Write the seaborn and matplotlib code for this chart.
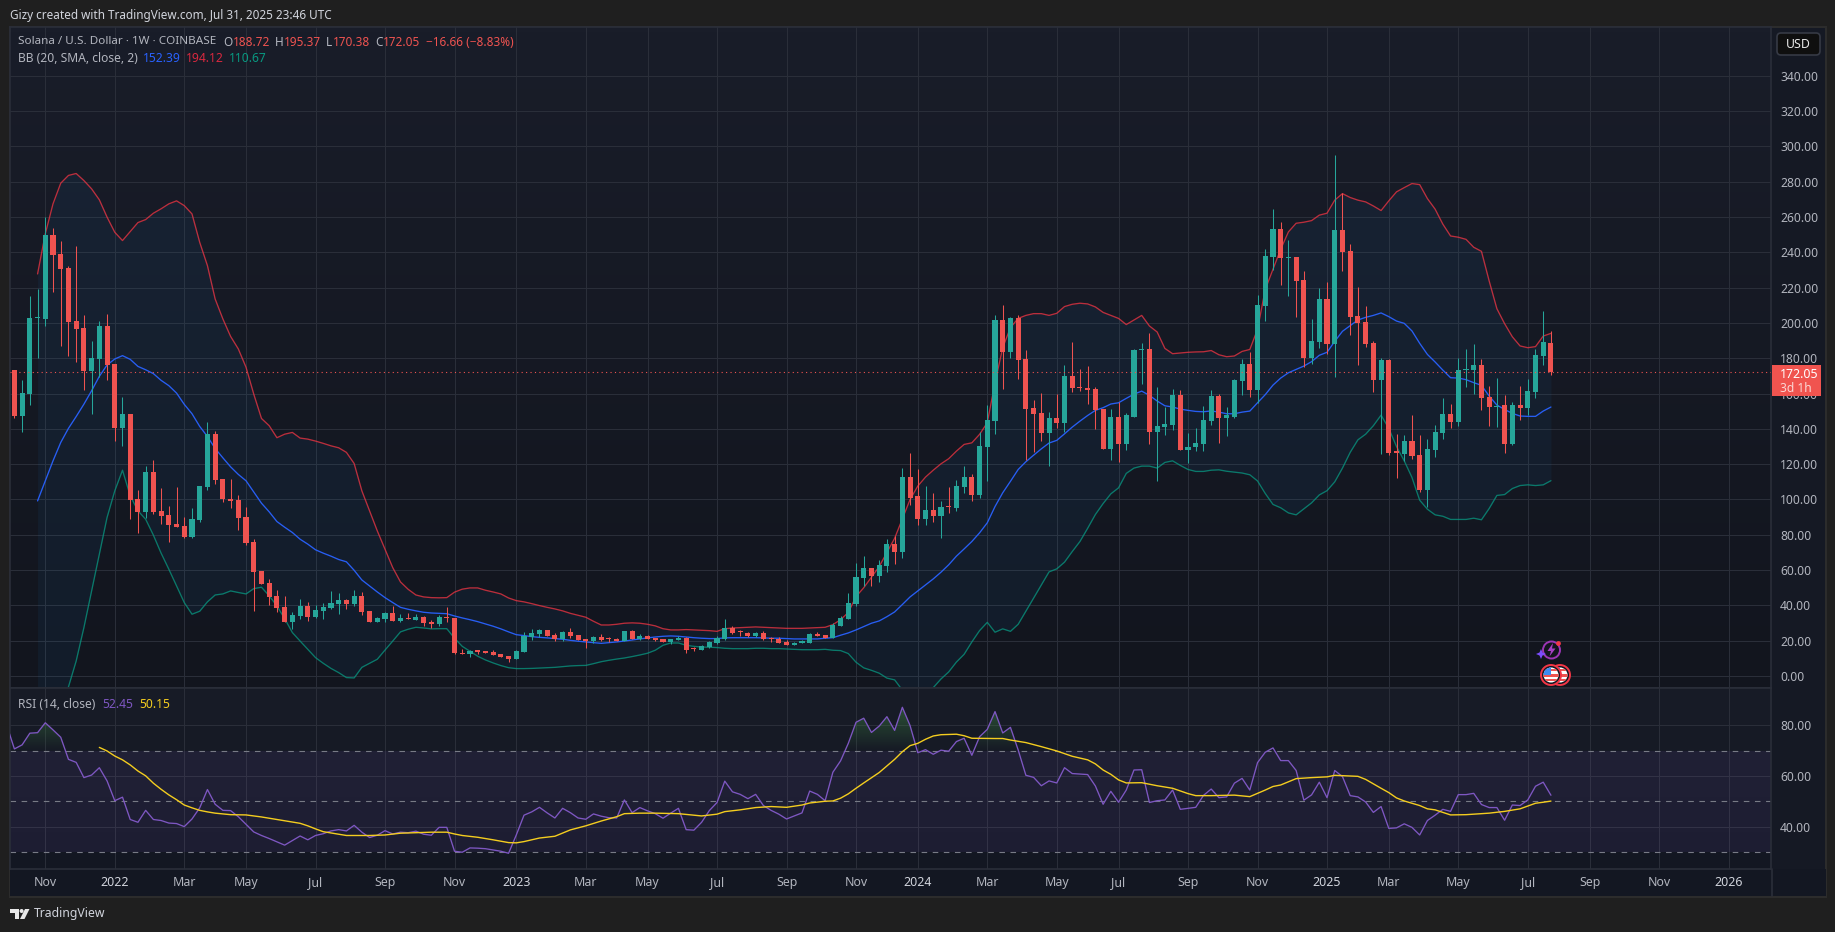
import numpy as np
import matplotlib
matplotlib.use("Agg")
import matplotlib.pyplot as plt
from matplotlib.patches import Rectangle, Circle, Polygon, FancyBboxPatch
from matplotlib.path import Path
import seaborn as sns

# ---------- DATA ----------
opens = [173.3,147.4,159.7,202.8,202.3,249.9,239.1,231.2,201.1,197.2,
 173,179.6,198.3,176.8,140.5,148.4,100.2,92.8,115.5,93.4,
 91.1,86,84.9,78.6,88.3,107,137,111.5,100.2,99.6,
 90,75.8,59.4,52.6,45.2,38.9,30.4,33.8,39.5,33.3,
 36.7,38.4,40.6,42.9,40.6,45.2,36.7,30.4,32.1,35.5,
 31,32.7,31.6,33.3,30.4,29.3,33.3,32.7,13.2,12.3,
 14.2,13.8,13.8,12.7,11.5,9.8,13.8,22.3,24,26.3,
 23.4,21.2,25.1,23.4,21.2,20,22.3,21.2,20.6,20,
 25.7,21.2,22.9,21.7,21.2,19.5,20.6,21.7,15.7,14.9,
 16.6,18.9,21.2,27.4,25.3,24.6,22.9,24.6,21.7,21.2,
 19.5,17.8,18.9,18.9,24,23.4,21.7,28.5,32.5,41,
 55.8,61.4,56.9,62.6,75,70.5,112.5,101.7,89.2,93.8,
 90.4,96,94.9,106.8,112.5,102.8,129.5,144.2,201.5,183.4,
 202.6,179.4,151.6,148.8,137.4,145.9,143.1,169.8,163.5,163,
 162.4,151,128.4,146.5,131.2,147,184.5,185,138,140.8,
 142,159,127.8,129.5,131.2,144.2,158.4,145.9,147,166.9,
 176.6,161.8,209.4,237.2,253.1,236.7,237.2,224.2,180,189,
 213.4,187.9,252.6,240.6,203.8,200.4,188.5,167.5,178.8,127,
 125.7,133.1,125.1,105.3,128,137.6,148.4,143.9,173.2,173.2,
 176,157.8,152.2,153.3,131.2,153.3,151.6,160.7,181.1,188.72]
highs = [173.3,167.7,215.5,219.3,259.9,253.7,246.3,232.5,243.7,204.5,
 189.8,201.1,205.1,176.8,158,148.4,105.3,118.9,122.3,106.4,
 96.2,107,90,95.1,107.6,143.9,138.8,111.5,111.5,102.5,
 95.7,77.5,59.4,54.8,48.6,45.2,36.1,43.5,41.8,40.1,
 41.2,48,46.9,43.5,48.6,47.4,36.7,33.3,36.1,39.5,
 35,35.5,35,33.8,31.6,34.4,38.9,32.7,15.3,14.9,
 14.2,14.2,14.7,12.7,11.5,14.9,25.1,26.8,26.8,26.3,
 24.6,25.7,27.4,23.4,21.2,22.9,24,22.1,21.7,25.7,
 26.3,24,23.4,21.7,21.2,21.2,22.5,22.3,16.4,17.8,
 20,22.9,32.5,28.5,25.9,25.1,25.1,25.7,22.3,22.3,
 20.6,19.5,20.6,24.6,25.1,23.4,30.2,34.2,47.3,64.3,
 68.2,61.4,66,77.9,79.6,118.1,126.1,117,107.4,103.4,
 99.4,106.8,111.3,118.7,114.7,138,153.3,204.3,210,203.2,
 204.3,184.5,156.1,160.1,149.3,159.5,176,189,173.7,175.4,
 163.5,151,151,155,148.8,185,188.5,194.1,163.5,152.2,
 162.4,161.8,137.4,140.3,152.7,161.8,160,152.2,168,179.4,
 183.4,215.7,241.8,264.5,257.1,246.9,237.2,229.3,202.1,219.7,
 223.1,295.1,273.5,244.6,220.2,209.5,189.6,180,179.5,137,
 136.5,147.8,136.5,134.2,142.2,157.5,154.1,180,185,187.9,
 179.4,164.1,168.6,159,155,164.1,168,185,206.6,195.37]
lows = [146.3,138.4,153.5,180.2,198.5,217.4,187.1,181.5,178.1,162.2,
 148.4,169.2,167.7,133.1,130.2,88.8,80.9,89.4,91.7,86,
 75.8,84.3,78.1,78.1,87.1,105.3,108.7,98.5,95.1,82.6,
 74.1,36.7,52,40.1,36.1,30.4,26.5,32.1,31,32.7,
 32.1,38,35,37.8,39.5,34.4,30.4,30.4,30.4,31,
 30.4,32.1,31.6,28.2,27,28.2,30.4,12.3,12.3,11,
 12.7,13.2,12.1,11,8.1,9.8,13.8,20.6,22.3,22.9,
 20,20,21.7,20.6,16.1,18.9,20,19.5,20,20,
 21.2,20.6,21.2,20,19.5,18.3,20.6,13.2,14.4,14.9,
 16.1,18.3,20.6,24,22.9,22.3,22.3,20.6,19.5,18.9,
 17.8,17.8,18.9,18.9,22.9,21.7,21.7,28.5,32.5,39.9,
 51.2,51.2,53.5,59.2,63.7,67.1,96.6,85.8,85.8,87,
 78.4,92.6,93.2,103.4,98.9,100.6,110.2,136.9,162.4,180,
 168,122.1,126.7,132.9,118.7,140.3,138,160.7,161.2,153.9,
 139.7,128.4,122.1,121,127.8,147,165.2,131.2,110.2,136.3,
 139.1,127.8,120.4,127.2,127.2,142,132,135.7,146,159,
 157.8,154.4,200.9,229.9,221.4,215.1,203.2,174.9,176.6,185.6,
 182.2,169.2,229.3,193,176,186.2,160.7,125.7,125.1,112.1,
 121.7,122.9,104.2,95.7,124,134.2,140.5,141.4,164,159.5,
 150.5,141.4,140.8,126.1,130.6,144.8,147.6,157.3,176,170.38]
closes = [147.4,160.3,202.8,203.2,249.9,238.6,230.6,200.8,196.6,173,
 180.2,198.3,176.2,140.5,148.4,99.6,92.8,115.5,92.8,90.5,
 85.4,84.3,78.6,88.8,107.6,137,111,100.2,99,89.4,
 75.2,58.8,52,44.6,38.4,30.4,34.4,39.5,33.3,37.2,
 38.9,41.2,42.9,40.6,45.2,36.1,30.4,32.7,35.5,31,
 32.7,32.1,33.3,29.9,29.3,33.3,32.7,12.9,12.3,14.4,
 13.8,13.2,12.1,11,9.8,14.4,22.9,24.6,26.3,22.9,
 21.2,25.1,22.9,20.6,20,22.3,20.6,20.8,20,25.7,
 21.2,22.9,21.2,20.6,19.5,21.2,21.7,14.9,15.1,17.2,
 19.5,21.7,27.4,24.6,25,22.9,24.6,21.2,20.8,18.9,
 17.8,18.9,19.5,24,22.9,21.7,29.1,33.1,41.6,56.3,
 61.4,56.9,63.1,75,70.5,112.5,101.1,89.2,93.8,90.4,
 96,95.5,107.4,112.5,102.8,130.1,144.8,201.5,183.4,202.6,
 178.8,151,148.2,137.4,145.9,143.1,169.8,163,163,161.8,
 150.5,128.4,146.5,131.2,147.6,184.5,184.9,138,141.4,142.5,
 159,127.8,130,131.8,144.8,158.4,145.9,147.6,167.5,176.6,
 161.8,210,237.8,253.1,236.7,237,223.6,180,189.6,213.4,
 187.9,252.6,240.1,203.2,199.8,187.9,167.5,178.8,126.3,126.6,
 133.1,124.6,105.3,128.5,138.2,148.4,143.9,173.2,173.5,176,
 157.3,152.2,153,131.2,153.3,151.6,161.2,181.7,189,172.05]

bb_basis = [99.2,110.6,121.9,132.3,140.3,147,154,161.6,169.8,176.2,
 179.6,181.5,179.4,175.4,173.5,171.3,167.5,164.5,160.3,153.9,
 148.6,141.4,135.7,128.9,123.6,118.5,114.2,110.6,104.3,97.9,
 93,87.5,84.3,81.3,77.5,74.7,71.5,69.6,67.9,66,
 64.7,59.9,54.4,51,47.6,44.4,41.6,38.9,37.8,36.9,
 36.1,35.7,35.5,35.3,34,32.9,31.9,30.8,29.5,28.2,
 26.7,25,23.4,22.9,22.3,21.9,21.6,21.2,20.8,20.2,
 19.7,19.3,18.9,18.5,18.9,19.3,19.8,20.4,21,21.6,
 22.1,22.5,22.7,22.5,22.1,21.7,21.4,21.2,21.2,21.6,
 21.7,21.7,21.7,21.7,21.6,21.4,21.4,21.2,21,21,
 21,21,21.4,21.7,23.1,24.4,26.1,28,29.9,31.2,
 33.6,36.3,40.5,44.8,48.2,51.6,55,58.8,63,67.9,
 72,76.2,81.1,86.8,96,103.8,110.3,117,121.4,125.1,
 128.7,132,133.5,137.2,141,144.4,147.6,150.5,152,154.1,
 154.8,157.3,159.7,161.4,159,155.8,153.1,152.4,151.2,150.5,
 149.9,149.7,150.2,149.5,148.6,148.6,149.5,150.1,154.8,159.4,
 164.8,168.8,171.8,173.7,175.6,178.1,181.7,183.4,189.6,195.3,
 198.5,201.7,203.2,204.3,205.7,203.6,201.1,199.8,195.5,188.5,
 182.2,177.9,173.3,169,168.8,167.9,166.2,164.7,158.6,153.5,
 151,148.8,147.3,147.1,147.1,150.1,152.39]
bb_upper = [227.8,250.5,267.5,279.2,283.6,284.7,280.7,276,269.8,260,
 251.4,246.7,251.8,256.9,258.6,262.2,264.7,267.5,269.2,266.5,
 261.8,245.7,232.5,213.6,202.3,192.4,185.3,174.9,159.7,145.9,
 141.8,135,137,138,134.8,134.2,133.1,131.8,130.4,129.3,
 126.7,120.4,104.9,93.6,82.2,71.8,61.4,53.3,49.1,45.9,
 44.8,44.4,44.3,44.4,47.5,49.2,49.9,49.9,48.6,47.6,
 46.5,44.2,42.7,42,41,39.9,38.9,38,36.9,35.5,
 34.4,33.3,31,28.9,28.9,29.3,29.9,30.1,29.9,29.3,
 28.4,26.8,26.1,26.1,26.3,26.1,25.9,25.7,25.3,26.8,
 27.2,27.4,27.6,27.8,27.6,27.4,27.2,27,27,27,
 27.2,27.4,27.6,29.1,31.9,36,45,50,56,62,
 70,78,89,100,107.6,112.7,116.6,120.2,123.1,127.4,
 131.2,132.1,136.9,143.5,166.2,186,197.4,202.6,204.3,205.3,
 205.3,204.3,205.5,209.3,210.6,211.2,210.8,209.1,206,204.3,
 202.6,199.1,201.7,204.3,198.3,194.9,185.6,182.6,183,183.4,
 183.6,183.7,184.4,182,180.9,181.3,183.9,185,196.4,219,
 230.4,241.8,251.6,256.5,257.1,258,261.1,262.2,269.6,273.3,
 271.1,269.6,268.6,266.3,263.7,269.2,274.3,276.7,279,278.4,
 270.5,264.5,256,249.3,248.6,247.4,242.9,240.6,223.8,208.1,
 199.6,192.2,187,186,186.6,192.6,194.12]
bb_lower = [-29.4,-29.3,-23.7,-14.6,-6.2,8.5,27.4,48.2,69,89.8,
 104.9,116.6,102.1,93.6,88.8,79.8,69.6,60.5,51,41.6,
 35,36.7,42,45.9,46.5,48.2,47.3,46.5,49.5,50.3,
 45.4,39.7,32.5,24.6,19.8,15.1,10.4,7.2,4.3,1.9,
 -0.9,-1.1,4.9,7.2,9.5,14.7,19.8,25,26.5,27.6,
 27.2,26.7,26.8,26.8,21.4,16.8,14,11.2,9.1,7.4,
 5.9,4.7,4.2,4.2,4.3,4.5,4.7,4.9,5.3,5.7,
 5.9,6,7,8.1,8.9,9.6,10.2,11,11.9,12.9,
 14.6,17.4,18.7,18.7,17.4,16.8,16.4,16.3,16.1,15.7,
 15.5,15.5,15.5,15.7,15.7,15.5,15.5,15.3,15.1,14.9,
 14.9,14.9,15.1,14.6,14.4,12.7,7.8,4.6,3.2,1.6,
 -1.2,-2.2,-8,-10.4,-11.2,-9.7,-6.6,-1.7,2.3,7.9,
 12.3,19.3,25.7,30.4,24.8,26.7,25.3,29.3,36.7,44,
 51.6,59,60.7,64.5,70.5,76.2,83.7,91.5,97.7,103.2,
 106.6,114.8,117.8,118.9,118.9,117.8,121,121.9,119.3,117,
 115.9,115.9,116.6,116.8,116,115.5,115,114,110.5,103.4,
 97.2,95.3,92.4,91.3,94.7,98.1,102.6,105,110,117.8,
 126.7,133.8,137,141.8,147.8,140.3,130,121.9,112.5,99.6,
 94.5,91.3,90.5,88.7,88.7,88.7,89.4,88.5,94.9,102.3,
 102.8,106.2,107.9,108.3,107.9,108.3,110.67]
bb_first_week = 3

rsi_first_week = -1
rsi_values = [80.1,70.7,72.3,76.9,77.1,81,78.2,75.3,66.6,65.4,59.4,
 60.4,63.3,58.1,50.3,51.7,42.9,41.8,46.5,42.9,42.5,
 41.5,41.3,40.1,43.1,47.5,54.7,48.9,46.5,46.4,44,
 41,38,36.6,35.4,34.1,32.8,34.6,36.4,34.9,36.6,
 37.3,38.4,38.9,38.4,40.6,37.9,35.8,36.7,38.5,37.2,
 37.9,37.7,38.3,37.1,36.7,39.8,39.8,30.4,30,31.7,
 31.6,31.4,30.9,30.4,29.6,36.8,44.6,45.9,47.7,45.5,
 43.5,47.3,45.6,43.5,43,45.1,44.2,43.6,43.5,50.6,
 45.6,47.6,46.3,45.2,43.4,45.4,47.3,38.9,38.7,41.8,
 46.4,49.6,58,53.8,52.8,51.1,52.8,48.4,46.5,45,
 43.1,44.3,45.5,54.1,52.8,50.3,61.5,66,72.9,81.2,
 82.8,77.2,79.7,83.4,78,87.1,79.9,69.2,70.4,68.6,
 70.2,69.8,73.6,74.9,68.2,75.5,78.4,85.4,77,79.2,
 70.3,60.3,59.5,56.2,58.1,57.3,63.3,61,60.8,60.6,
 56.1,48.9,54,49.7,54.5,62.4,62.5,49.6,50.3,50.6,
 54.5,46.9,47.3,47.7,52.4,54.9,51.5,51.8,57.2,59.1,
 54.5,65.3,69.4,71.1,66.1,66.1,62.2,50.5,52.6,57.6,
 51.5,62.2,59.8,52.3,51.8,49.8,45.7,48,39.4,39.6,
 41.2,39.8,36.8,42.5,44.6,46.9,46.1,52.7,52.7,53.2,
 48.8,47.6,47.6,42.6,48.6,48.4,50.6,56,57.6,52.45]
rsi_ma_weeks = [11,12,13,14,15,16,17,18,19,20,21,22,23,24,25,26,27,28,30,32,34,36,37,38,39,40,41,
 43,46,48,50,52,54,56,57,58,60,62,64,65,66,68,70,72,74,76,78,79,81,83,86,89,91,92,94,96,98,100,
 102,103,105,106,107,108,109,110,112,114,115,116,117,118,119,120,122,123,124,127,128,129,131,
 133,135,137,139,140,141,142,143,144,146,148,150,152,153,155,158,160,162,163,164,166,168,170,
 171,174,175,177,178,179,180,182,183,184,186,188,191,193,195,197,198,199]
rsi_ma_values = [71.3,69.9,67.9,66.4,64.4,62,60.1,57.2,54.8,52.6,50.7,48.6,47.5,46.5,45.9,45.4,45.1,44.8,44.7,43.9,42.9,41.9,41.4,40.4,39.2,38.1,37.6,
 36.6,36.6,36.8,37.5,37.7,37.9,37.9,37.2,36.6,35.9,34.9,33.8,33.7,34.2,35.6,36.3,38.8,40.4,42.3,44,45.2,45.4,45.4,45.2,44.3,45,46,46.7,47.6,48,47.7,
 48.6,49.4,50.1,50.2,51.3,53,55.2,57.3,61.4,66.6,69.6,72,72.9,74.5,75.8,76.3,76.5,75.9,74.9,74.8,74.8,74.2,73.2,
 71.6,69.9,67.8,66.4,64.8,62.4,60.7,58.5,57.3,57.4,56.2,55.2,53.1,52.3,52.3,52.5,51.9,54.5,55.9,56.5,59,59.4,59.7,
 60.3,59.9,58.7,55.2,53.5,51.4,50.2,48.4,47.1,46.7,44.7,44.8,45.4,46.1,47.1,49.3,49.7,50.15]

month_weeks = [4,13,22,30,39,48,57,65,74,82,91,100,109,117,126,135,143,152,161,170,178,187,196,204,213,222]
month_labels = ["Nov","2022","Mar","May","Jul","Sep","Nov","2023","Mar","May","Jul","Sep","Nov","2024",
                "Mar","May","Jul","Sep","Nov","2025","Mar","May","Jul","Sep","Nov","2026"]
price_ticks = list(range(0, 341, 20))
rsi_ticks = [40, 60, 80]
rsi_levels = [70, 50, 30]
last_price = 172.05

# ---------- STYLE ----------
sns.set_theme(style="dark")
plt.rcParams["font.family"] = ["Noto Sans", "DejaVu Sans"]
UP, DOWN = "#26a69a", "#ef5350"
TXT = "#b2b5be"
GRID = "#2a2e39"
W, H = 1835, 932
fig = plt.figure(figsize=(W/100, H/100), dpi=100, facecolor="#1f1f1f")

def axpx(x0, y0, x1, y1, **kw):
    return fig.add_axes([x0/W, 1-y1/H, (x1-x0)/W, (y1-y0)/H], **kw)

# back layer: frame, right scale, time axis
back = axpx(0, 0, W, H, zorder=0); back.set_xlim(0, W); back.set_ylim(H, 0); back.axis("off")
back.add_patch(Rectangle((9.5, 26.5), 1816.5, 870, fc="#151924", ec="#2c2c2c", lw=1.5))
back.add_patch(Rectangle((10, 869), 1816, 27, fc="#131722", ec="none"))

def gradient(ax, c0, c1):
    c0 = np.array(matplotlib.colors.to_rgb(c0)); c1 = np.array(matplotlib.colors.to_rgb(c1))
    t = np.linspace(0, 1, 128)[:, None, None]
    ax.imshow(c0[None, None, :]*(1-t)+c1[None, None, :]*t, extent=(0, 1, 0, 1), origin="upper",
              transform=ax.transAxes, aspect="auto", zorder=-10)

ax = axpx(10, 27, 1771, 688, zorder=1)
ar = axpx(10, 688, 1771, 869, zorder=1)
gradient(ax, "#191d29", "#12151e")
gradient(ar, "#181c27", "#131722")

weeks = np.arange(len(closes))
o, h, l, c = map(np.array, (opens, highs, lows, closes))
up = c >= o
bb_x = np.arange(bb_first_week, bb_first_week+len(bb_basis))

# Bollinger
ax.fill_between(bb_x, bb_lower, bb_upper, color="#2196f3", alpha=0.06, lw=0, zorder=1)
for vals, col in ((bb_basis, "#2962ff"), (bb_upper, "#f23645"), (bb_lower, "#089981")):
    sns.lineplot(x=bb_x, y=vals, ax=ax, color=col, lw=0.95, alpha=0.75 if col != "#2962ff" else 0.95,
                 estimator=None, errorbar=None, sort=False, legend=False, zorder=2)

# candles
ax.vlines(weeks, l, h, colors=np.where(up, UP, DOWN).tolist(), lw=0.75, zorder=3)
ax.bar(weeks, np.maximum(np.abs(c-o), 0.7), bottom=np.minimum(o, c), width=0.66,
       color=np.where(up, UP, DOWN).tolist(), lw=0, zorder=4)
ax.axhline(last_price, color=DOWN, lw=0.8, ls=(0, (1, 3)), zorder=5)

# RSI
rsi_x = np.arange(rsi_first_week, rsi_first_week+len(rsi_values))
rsi = np.array(rsi_values)
ar.axhspan(rsi_levels[2], rsi_levels[0], color="#7e57c2", alpha=0.1, lw=0, zorder=1)
for lev in rsi_levels:
    ar.axhline(lev, color="#787b86", lw=0.8, ls=(0, (5, 5)), zorder=2)
poly = ar.fill_between(rsi_x, 70, rsi, where=rsi > 70, interpolate=True, facecolor="none", lw=0)
t = np.linspace(0, 1, 64)
g = np.zeros((64, 1, 4)); g[..., 0] = 0.3; g[..., 1] = 0.69; g[..., 2] = 0.31; g[..., 3] = (t*0.42)[:, None]
im = ar.imshow(g, extent=(rsi_x[0], rsi_x[-1], 70, 90), origin="lower", aspect="auto", zorder=2)
im.set_clip_path(Path.make_compound_path(*poly.get_paths()), transform=ar.transData)
sns.lineplot(x=rsi_x, y=rsi_values, ax=ar, color="#7e57c2", lw=0.95, estimator=None, errorbar=None,
             sort=False, legend=False, zorder=3)
sns.lineplot(x=rsi_ma_weeks, y=rsi_ma_values, ax=ar, color="#f4cd1f", lw=1.0, estimator=None, errorbar=None,
             sort=False, legend=False, zorder=4)

# axes
xlim = (-0.57, 227.5)
for a in (ax, ar):
    a.set_xlim(*xlim)
    a.set_axisbelow(True)
    a.grid(True, color=GRID, lw=0.72)
    a.set_xticks(month_weeks)
    a.yaxis.tick_right()
    a.tick_params(length=0, labelsize=8.7, labelcolor=TXT, pad=6.5)
    a.set_xlabel(""); a.set_ylabel("")
    for s in a.spines.values():
        s.set_color("#2a2e39"); s.set_linewidth(1.2)
ax.set_ylim(-6.8, 367.7)
ar.set_ylim(23.4, 94.7)
ax.set_yticks(price_ticks); ax.set_yticklabels([f"{v:.2f}" for v in price_ticks])
ar.set_yticks(rsi_ticks); ar.set_yticklabels([f"{v:.2f}" for v in rsi_ticks])
ax.tick_params(axis="x", labelbottom=False)
ar.set_xticklabels(month_labels)
ar.tick_params(axis="x", pad=4.8, labelsize=8.9)
for lab in ar.get_xticklabels():
    if lab.get_text().isdigit():
        lab.set_color("#d1d4dc"); lab.set_fontweight("semibold")

# front layer: legends, header, button, price label, icons, logo
f = axpx(0, 0, W, H, zorder=5); f.set_xlim(0, W); f.set_ylim(H, 0); f.axis("off"); f.patch.set_alpha(0)
def T(x, y, s, col=TXT, size=8.7, **kw):
    f.text(x, y, s, color=col, fontsize=size, va="center", ha=kw.pop("ha", "left"), **kw)

f.plot([1771.5, 1771.5], [869, 896], color="#2a2e39", lw=1.2)
T(10, 15, "Gizy created with TradingView.com, Jul 31, 2025 23:46 UTC", "#d1d4dc", 8.47)
T(18, 42, "Solana / U.S. Dollar · 1W · COINBASE", TXT, 8.4)
red = "#ef5350"
for x, lab, x2, v in ((223, "O", 232.5, "188.72"), (275, "H", 283.5, "195.37"),
                      (326, "L", 333, "170.38"), (375, "C", 383, "172.05")):
    T(x, 42, lab, TXT, 8.5); T(x2, 42, v, red, 8.5)
T(426, 42, "−16.66 (−8.83%)", red, 8.5)
T(18, 59, "BB (20, SMA, close, 2)", TXT)
T(143, 59, "152.39", "#2962ff"); T(186, 59, "194.12", "#d9283f"); T(229, 59, "110.67", "#089981")
T(18, 704, "RSI (14, close)", TXT)
T(102, 704, "52.45", "#7e57c2"); T(139, 704, "50.15", "#f4cd1f")

f.add_patch(FancyBboxPatch((1777, 33), 43, 22, boxstyle="round,pad=0,rounding_size=4",
                           fc="#0f0f0f", ec="#363a45", lw=1.2))
T(1798.5, 44.5, "USD", "#e8e8e8", 8.9, ha="center")

f.add_patch(Rectangle((1772, 365), 49, 31, fc="#f0544f", ec="none"))
T(1780, 374, "172.05", "#ffffff", 8.9, fontweight="bold")
T(1780, 388, "3d 1h", "#fbd6d3", 8.7)

# icons
f.add_patch(Circle((1551.5, 650), 8.5, fc="none", ec="#9c35b5", lw=1.4))
f.add_patch(Polygon([(1553, 643), (1547.5, 651), (1551, 651), (1549.5, 656.5), (1555.5, 648.5), (1552, 648.5)],
                    fc="#a63fc4", ec="none"))
f.add_patch(Circle((1558.5, 643.5), 2.4, fc="#f23645", ec="none"))
f.add_patch(Polygon([(1541, 649), (1542.5, 652.5), (1546, 654), (1542.5, 655.5), (1541, 659), (1539.5, 655.5),
                     (1536, 654), (1539.5, 652.5)], fc="#7c4dff", ec="none"))
for cx in (1560, 1551):
    ring = Circle((cx, 675), 10, fc="#131722", ec="#f23645", lw=1.4); f.add_patch(ring)
    disc = Circle((cx, 675), 7.5, fc="white", ec="none"); f.add_patch(disc)
    for dy in (-5, 0.5, 5):
        st = Rectangle((cx-8, 675+dy-1.3), 16, 2.6, fc="#ef5350", ec="none"); f.add_patch(st); st.set_clip_path(disc)
    ca = Rectangle((cx-8, 667), 8, 8, fc="#3d8bf2", ec="none"); f.add_patch(ca); ca.set_clip_path(disc)

# logo
f.add_patch(Polygon([(10, 909), (19, 909), (19, 919), (14.8, 919), (14.8, 913), (10, 913)], fc="#e8e8e8", ec="none"))
f.add_patch(Circle((21.6, 911), 2.0, fc="#e8e8e8", ec="none"))
f.add_patch(Polygon([(25, 909), (29.5, 909), (24.5, 919), (20, 919)], fc="#e8e8e8", ec="none"))
T(33.5, 914, "TradingView", "#d1d4dc", 8.8)

fig.savefig("out.png", dpi=100, facecolor=fig.get_facecolor())
